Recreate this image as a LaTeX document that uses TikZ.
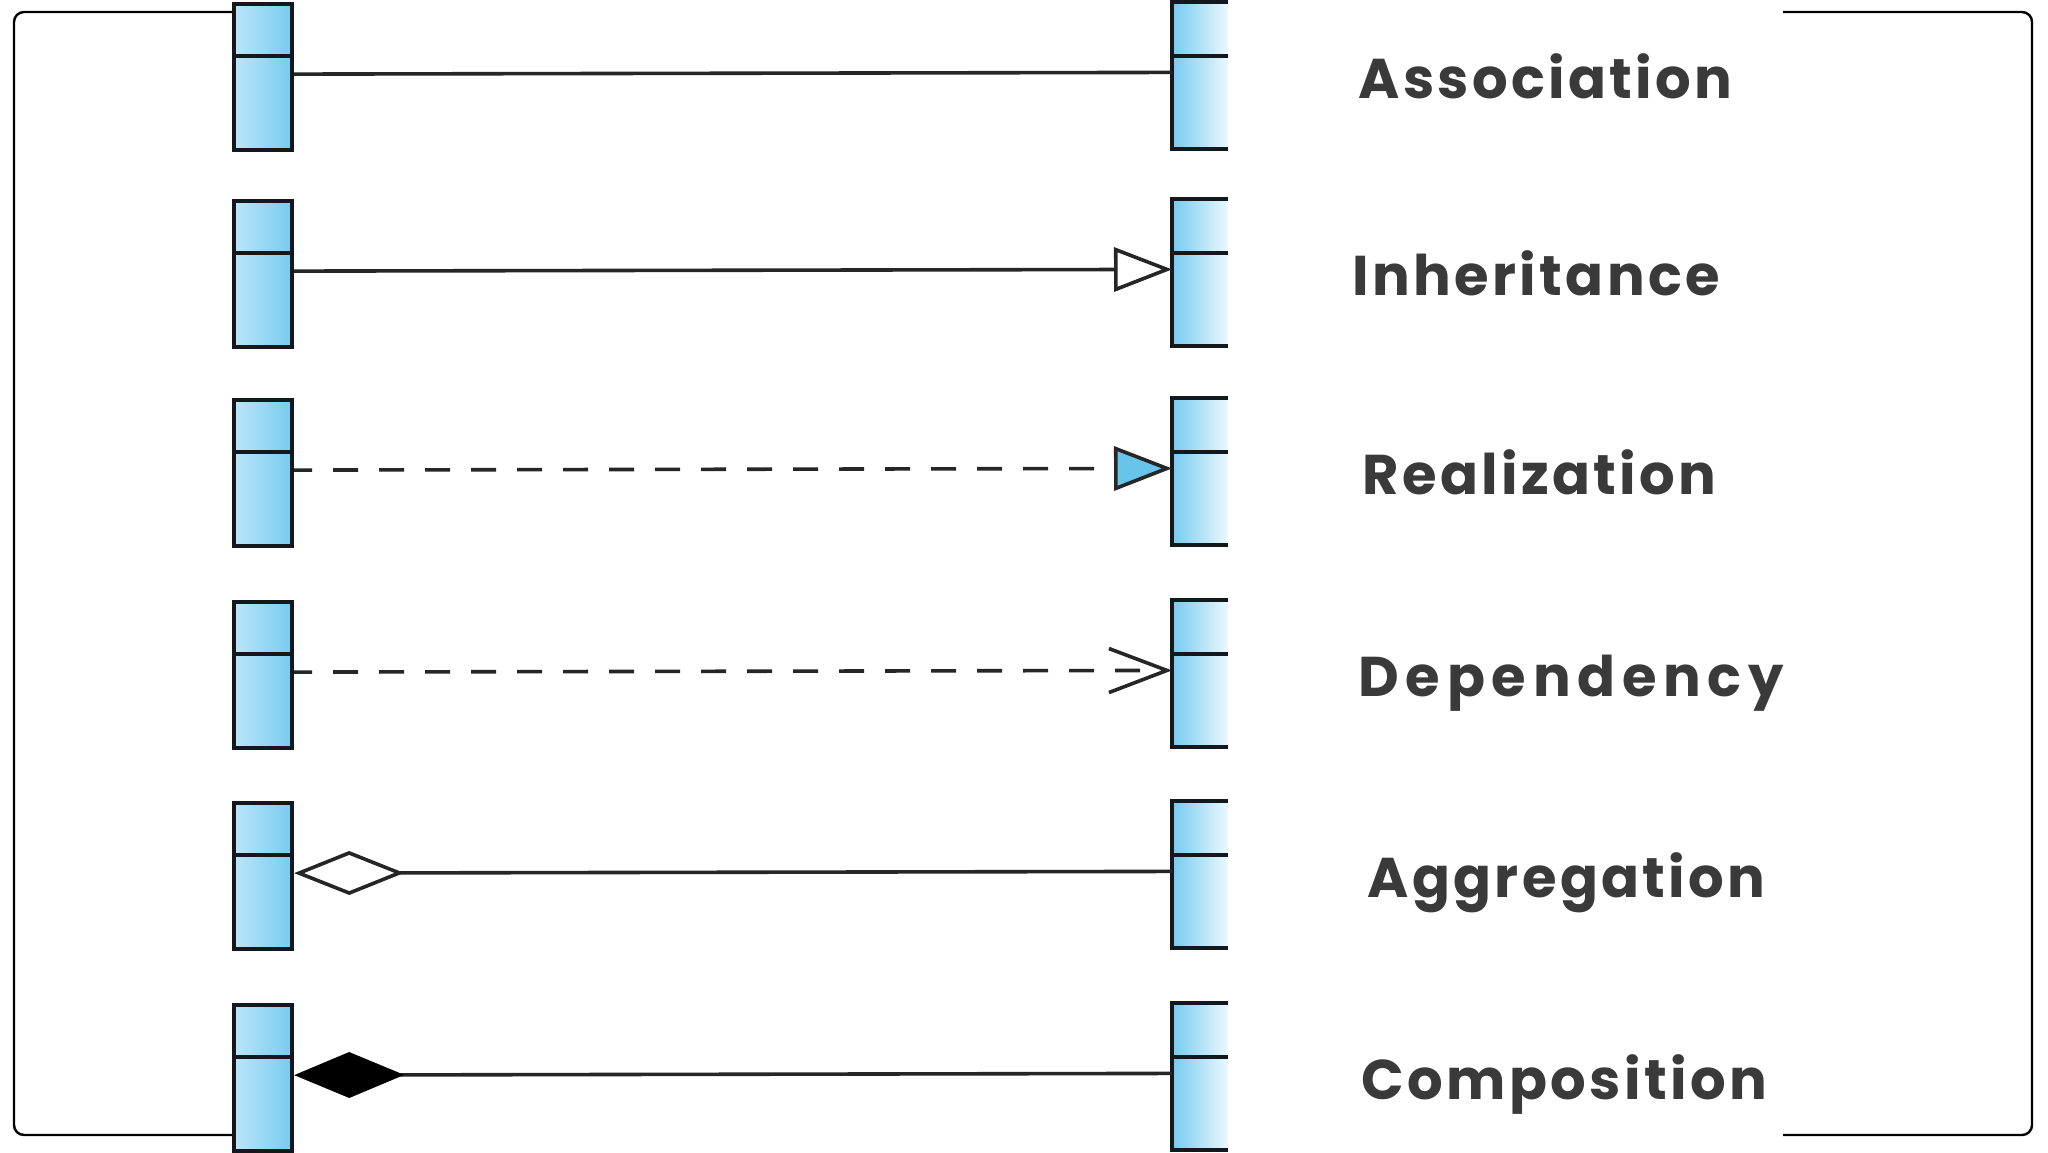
\documentclass[tikz,border=0pt]{standalone}
\usepackage{fontspec}
\setmainfont{Poppins}
\usetikzlibrary{arrows.meta}
\definecolor{boxdark}{RGB}{118,203,240}
\definecolor{boxlight}{RGB}{188,230,248}
\definecolor{boxfade}{RGB}{235,248,253}
\definecolor{realfill}{RGB}{105,196,236}
\definecolor{labelgray}{RGB}{58,58,58}
\definecolor{edgecol}{RGB}{20,24,28}
\begin{document}
\begin{tikzpicture}[x=0.5pt,y=-0.5pt,
  edge/.style={draw=edgecol, line width=2.1pt},
  lbox/.style={rectangle, anchor=north west, minimum width=29pt, minimum height=73pt,
    inner sep=0pt, left color=boxlight, right color=boxdark, edge},
  rbox/.style={rectangle, anchor=north west, minimum width=27.5pt, minimum height=73pt,
    inner sep=0pt, left color=boxdark, right color=boxfade},
  conn/.style={draw=black!85, line width=1.8pt},
  dashconn/.style={conn, dash pattern=on 12.5pt off 10.5pt, dash phase=3.5pt},
  lab/.style={anchor=base west, inner sep=0pt, text=labelgray,
    font=\fontsize{28}{31}\selectfont\bfseries\addfontfeatures{LetterSpace=6}},
  widelab/.style={lab, font=\fontsize{28}{31}\selectfont\bfseries\addfontfeatures{LetterSpace=12}},
  frame/.style={draw=black, line width=1.2pt, rounded corners=5pt}
]
\useasboundingbox (0,0) rectangle (2048,1152);
% outer frame, hidden behind the white panel
\draw[frame] (14,12) rectangle (2032,1135);
\fill[white] (232,0) rectangle (1783,1152);

% boxes
\foreach \i/\t in {1/2,2/199,3/398,4/600,5/801,6/1003}{
  \node[lbox] (L\i) at (232,\t) {};
  \node[rbox] (R\i) at (1172,\t) {};
  \draw[edge] ([yshift=-27pt]L\i.north west) -- ([yshift=-27pt]L\i.north east);
  \draw[edge] (R\i.north east) -- (R\i.north west) -- (R\i.south west) -- (R\i.south east);
  \draw[edge] ([yshift=-27pt]R\i.north west) -- ([yshift=-27pt]R\i.north east);
}

% connectors
\draw[conn] ([yshift=1.5pt]L1.east) -- ([yshift=1.5pt]R1.west);
\draw[conn, -{Triangle[open, length=29pt, width=22pt, line width=1.8pt]}]
  ([yshift=1.5pt]L2.east) -- ([yshift=1.5pt]R2.west);
\draw[dashconn, -{Triangle[length=29pt, width=22pt, fill=realfill, line width=1.8pt, sep=0pt]}]
  ([yshift=1.5pt]L3.east) -- ([yshift=1.5pt]R3.west);
\draw[dashconn, -{Straight Barb[length=29pt, width=22pt, line width=1.8pt]}]
  ([yshift=1.5pt]L4.east) -- ([yshift=1.5pt]R4.west);
\draw[conn, {Diamond[open, length=55pt, width=22pt, line width=1.8pt]}-]
  ([yshift=1.5pt]L5.east) -- ([yshift=1.5pt]R5.west);
\draw[conn, {Diamond[length=55pt, width=23pt, fill=black, color=black]}-]
  ([yshift=1.5pt]L6.east) -- ([yshift=1.5pt]R6.west);

% labels
\node[lab] (t1) at (1358,98) {Association};
\node[lab] (t2) at (1352,295) {Inheritance};
\node[lab] (t3) at (1362,494) {Realization};
\node[widelab] (t4) at (1358,696) {Dependency};
\node[lab] (t5) at (1367,897) {Aggregation};
\node[lab] (t6) at (1361,1099) {Composition};
\end{tikzpicture}
\end{document}
